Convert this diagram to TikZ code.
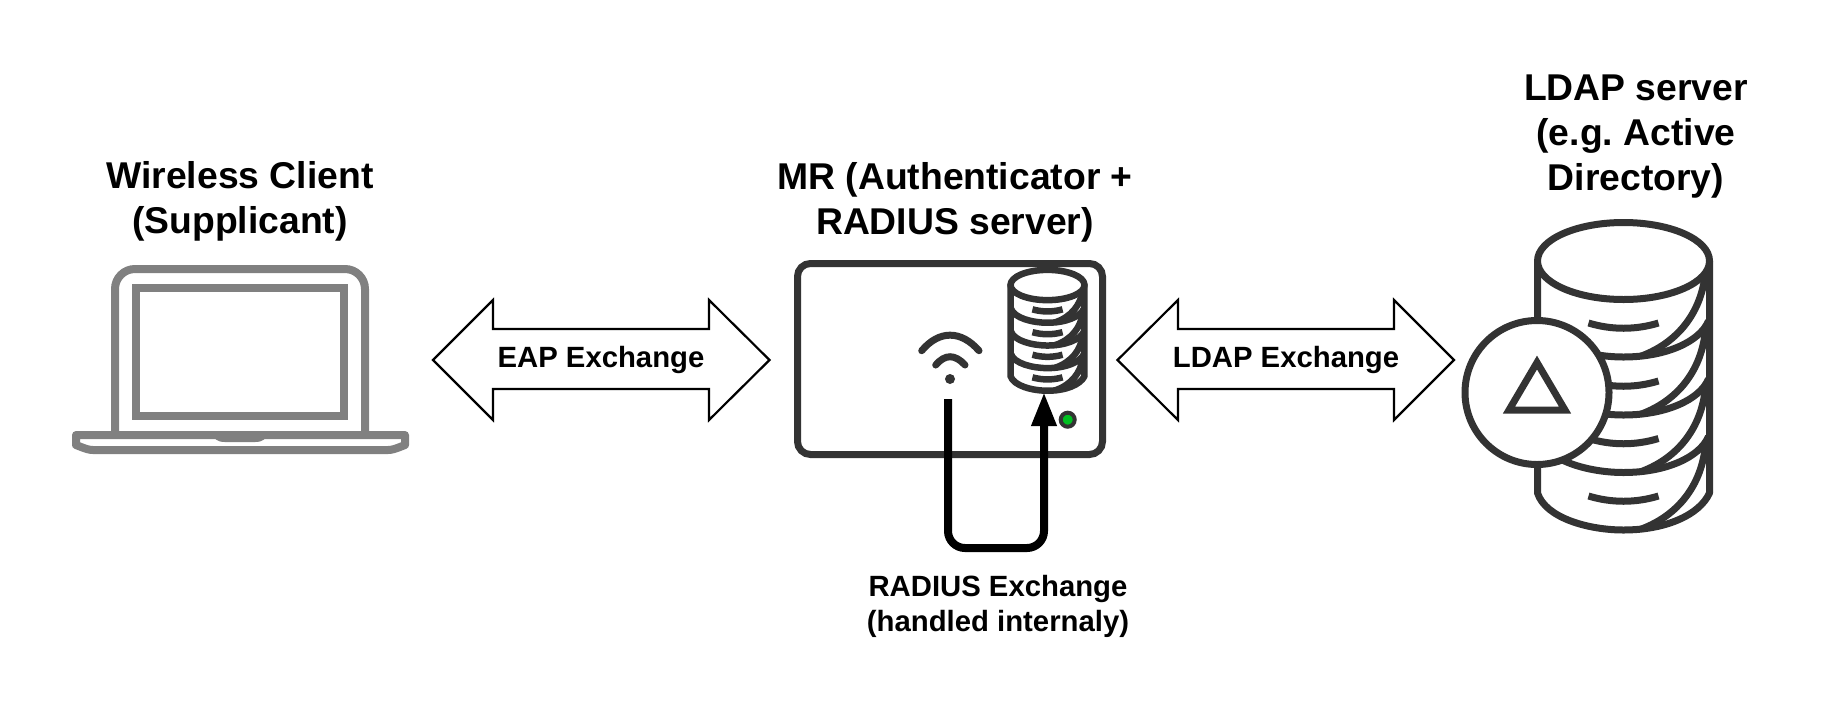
\documentclass[tikz,border=0pt]{standalone}
\usepackage{fontspec}
\setmainfont{Liberation Sans}
\usetikzlibrary{arrows.meta}
\definecolor{lapgray}{HTML}{808080}
\definecolor{dark}{HTML}{333333}
\definecolor{ledgreen}{HTML}{00C020}
\tikzset{
  bigtext/.style={font=\fontsize{37.3}{44.6}\selectfont\bfseries\frenchspacing,align=center,text=black,inner sep=0pt},
  smalltext/.style={font=\fontsize{29.3}{35}\selectfont\bfseries,align=center,text=black,inner sep=0pt},
  lap/.style={draw=lapgray,line width=8pt,fill=white},
  dub/.style={draw=black,line width=2.2pt,fill=white,line join=miter},
  darkline/.style={draw=dark,line width=#1},
  flowline/.style={draw=black,line width=8pt,rounded corners=17pt,-{Triangle[length=34pt,width=23.5pt]}}
}
\newcommand{\dbicon}[5]{%
\begin{scope}[shift={(#1,#2)},xscale=#3,yscale=#4,darkline=#5,line join=round]
  \draw[fill=white] (-86,0) -- (-86,232) .. controls (-78,257) and (-35,269) .. (0,269)
     .. controls (42,269) and (76,254) .. (86,232) -- (86,0) -- cycle;
  \foreach \yb in {96,154,211.5}{
    \draw (-85,\yb-36) .. controls (-78,\yb-12) and (-35,\yb) .. (0,\yb)
       .. controls (42,\yb) and (76,\yb-15) .. (85,\yb-36);
  }
  \foreach \yb in {96,154,211.5,269}{
    \draw (82,\yb-85) .. controls (78,\yb-45) and (55,\yb-15) .. (18,\yb-1);
    \draw (-35,\yb-34) .. controls (-12,\yb-27) and (12,\yb-27) .. (35,\yb-34);
  }
  \draw[fill=white] (0,0) ellipse [x radius=86,y radius=38.5];
\end{scope}}
\begin{document}
\begin{tikzpicture}[x=1pt,y=-1pt]
\useasboundingbox (0,0) rectangle (1828,705);
% laptop
\draw[lap,rounded corners=20pt] (115,435) -- (115,269) -- (365,269) -- (365,435);
\draw[lap,fill=none] (136,288) rectangle (344,416);
\draw[lap,line join=round] (76,435) -- (405,435) -- (405,445) .. controls (395,449) and (392,450) .. (388,450)
   -- (93,450) .. controls (89,450) and (86,449) .. (76,445) -- cycle;
\fill[lapgray] (213,437) -- (267,437) .. controls (262,442) and (258,442) .. (255,442) -- (225,442) .. controls (222,442) and (218,442) .. (213,437) -- cycle;
% double arrows
\draw[dub] (433,360) -- (493,300) -- (493,329) -- (709,329) -- (709,300) -- (769.5,360) -- (709,420) -- (709,389) -- (493,389) -- (493,420) -- cycle;
\draw[dub] (1117.5,360) -- (1178,300) -- (1178,329) -- (1394,329) -- (1394,300) -- (1454,360) -- (1394,420) -- (1394,389) -- (1178,389) -- (1178,420) -- cycle;
\node[smalltext] (eap) at (601,359.5) {EAP Exchange};
\node[smalltext] (ldap) at (1286,359.5) {LDAP Exchange};
% MR box
\draw[darkline=7pt,rounded corners=13pt,fill=white] (797.5,263.5) rectangle (1102.5,454.5);
\dbicon{1047.5}{285}{0.43}{0.393}{6.5pt}
% wifi
\fill[dark] (950,379) circle (5);
\draw[darkline=7pt,line cap=round] (935.7,365) .. controls (945,354) and (955,354) .. (965,365);
\draw[darkline=7pt,line cap=round] (921.7,350.7) .. controls (939,330) and (961,330) .. (979,350.7);
% led
\draw[darkline=4pt,fill=ledgreen] (1067.7,419.7) circle (7);
% connector
\coordinate (wifibottom) at (948,399);
\coordinate (dbbottom) at (1044,392);
\coordinate (loopa) at (948,548);
\coordinate (loopb) at (1044,548);
\draw[flowline] (wifibottom) -- (loopa) -- (loopb) -- (dbbottom);
% big database
\dbicon{1623.5}{261}{1}{1}{7pt}
\node[draw=dark,line width=7pt,fill=white,circle,minimum size=144pt,inner sep=0pt] (ldapcircle) at (1537,392.5) {};
\draw[darkline=7pt,line join=miter] (1537,362.5) -- (1565,410) -- (1509,410) -- cycle;
% labels
\node[bigtext] (client) at (240,201.5) {Wireless Client\\(Supplicant)};
\node[bigtext] (mr) at (955,202.5) {MR (Authenticator +\\RADIUS server)};
\node[bigtext] (server) at (1636,136.5) {LDAP server\\(e.g. Active\\Directory)};
\node[smalltext] (radius) at (998,606.5) {RADIUS Exchange\\(handled internaly)};
\end{tikzpicture}
\end{document}
